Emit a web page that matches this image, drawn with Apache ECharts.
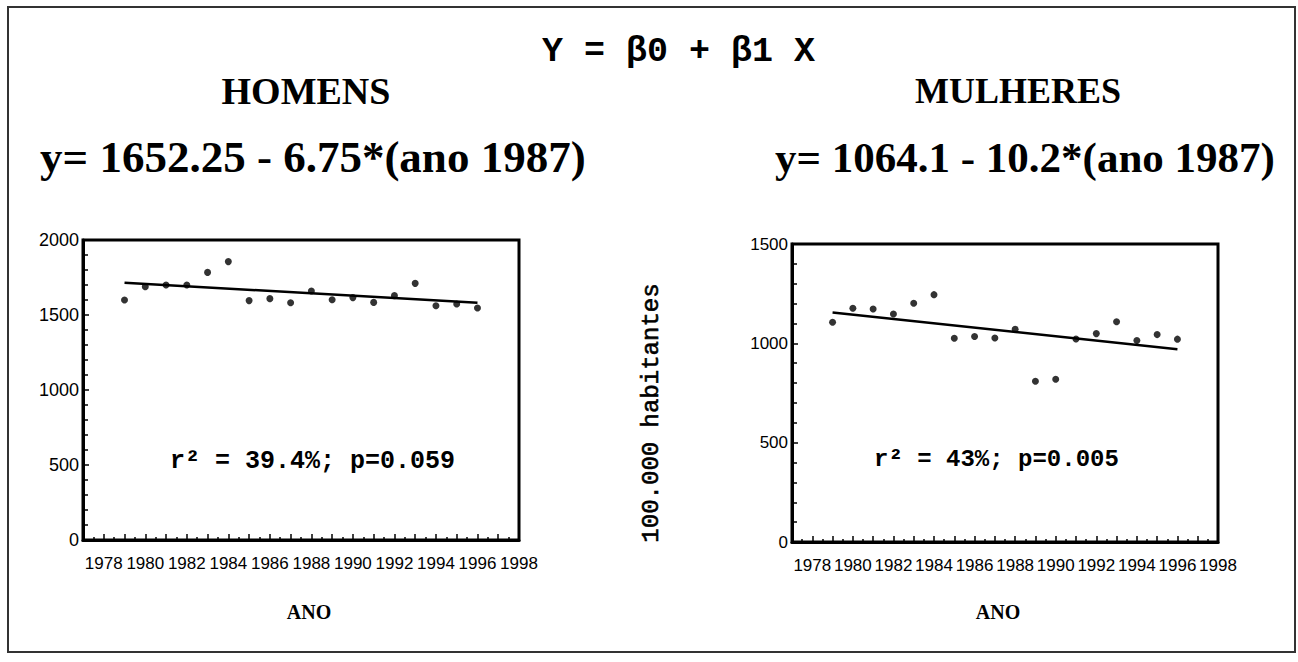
<!DOCTYPE html>
<html>
<head>
<meta charset="utf-8">
<script src="https://cdn.jsdelivr.net/npm/echarts@6/dist/echarts.min.js"></script>
<style>
  html, body { margin: 0; padding: 0; background: #fff; }
  #chart { width: 1298px; height: 662px; }
</style>
</head>
<body>
<div id="chart"></div>
<script>
  // anos de cada ponto
  const anos = [1979, 1980, 1981, 1982, 1983, 1984, 1985, 1986, 1987, 1988, 1989, 1990, 1991, 1992, 1993, 1994, 1995, 1996];
  // taxas por 100.000 habitantes
  const homens = [1600, 1689, 1700, 1700, 1784, 1856, 1596, 1609, 1582, 1660, 1602, 1616, 1584, 1629, 1711, 1562, 1573, 1547];
  const mulheres = [1106, 1177, 1173, 1148, 1202, 1245, 1026, 1034, 1027, 1071, 809, 819, 1022, 1049, 1109, 1014, 1044, 1021];
  // reta ajustada (extremos)
  const retaHomens = [[1979, 1715], [1996, 1582]];
  const retaMulheres = [[1979, 1155], [1996, 970]];

  const pares = (vals) => anos.map((a, i) => [a, vals[i]]);

  const chart = echarts.init(document.getElementById('chart'), null, { renderer: 'svg' });

  const eixoX = (idx) => ({
    type: 'value',
    gridIndex: idx,
    min: 1977,
    max: 1998,
    interval: 1,
    axisLine: { show: true, onZero: false, lineStyle: { color: '#000', width: 3 } },
    axisTick: { show: true, inside: true, length: 6, lineStyle: { color: '#000', width: 1.5 } },
    minorTick: { show: true, splitNumber: 2, length: 3, lineStyle: { color: '#000', width: 1.5 } },
    splitLine: { show: false },
    axisLabel: {
      margin: 15,
      color: '#000',
      fontFamily: 'Liberation Sans',
      fontSize: 17,
      showMinLabel: true,
      showMaxLabel: true,
      formatter: (v) => (v % 2 === 0 ? String(v) : '')
    }
  });

  const eixoY = (idx, max, size) => ({
    type: 'value',
    gridIndex: idx,
    min: 0,
    max: max,
    interval: 500,
    axisLine: { show: true, lineStyle: { color: '#000', width: 3 } },
    axisTick: { show: true, inside: true, length: 6, lineStyle: { color: '#000', width: 1.5 } },
    minorTick: { show: true, splitNumber: 5, length: 5, lineStyle: { color: '#000', width: 1.5 } },
    splitLine: { show: false },
    axisLabel: {
      margin: 4,
      color: '#000',
      fontFamily: 'Liberation Sans',
      fontSize: size,
      formatter: (v) => String(v)
    }
  });

  const pontos = (idx, vals) => ({
    type: 'scatter',
    xAxisIndex: idx,
    yAxisIndex: idx,
    data: pares(vals),
    symbolSize: 7,
    itemStyle: { color: '#000' },
    silent: true
  });

  const reta = (idx, dados) => ({
    type: 'line',
    xAxisIndex: idx,
    yAxisIndex: idx,
    data: dados,
    showSymbol: false,
    lineStyle: { color: '#000', width: 2.5 },
    silent: true
  });

  const txt = (x, y, text, font, align) => ({
    type: 'text',
    x: x,
    y: y,
    style: { text: text, font: font, fill: '#000', align: align || 'center', verticalAlign: 'middle' }
  });

  const option = {
    animation: false,
    grid: [
      { left: 83, top: 240, width: 436, height: 300, show: true, borderColor: '#000', borderWidth: 3 },
      { left: 792, top: 244, width: 426, height: 298, show: true, borderColor: '#000', borderWidth: 3 }
    ],
    xAxis: [eixoX(0), eixoX(1)],
    yAxis: [eixoY(0, 2000, 18), eixoY(1, 1500, 17)],
    series: [
      pontos(0, homens),
      reta(0, retaHomens),
      pontos(1, mulheres),
      reta(1, retaMulheres)
    ],
    graphic: [
      // moldura externa
      {
        type: 'rect',
        shape: { x: 8, y: 7, width: 1287, height: 645 },
        style: { fill: 'none', stroke: '#333', lineWidth: 2 }
      },
      txt(542, 52, 'Y = β0 + β1 X', 'bold 35px "Liberation Mono"', 'left'),
      txt(306, 91, 'HOMENS', 'bold 38px "Liberation Serif"'),
      txt(1018, 91, 'MULHERES', 'bold 36px "Liberation Serif"'),
      txt(40, 157, 'y= 1652.25 - 6.75*(ano 1987)', 'bold 45px "Liberation Serif"', 'left'),
      txt(775, 157, 'y= 1064.1 - 10.2*(ano 1987)', 'bold 43px "Liberation Serif"', 'left'),
      txt(170, 461, 'r² = 39.4%; p=0.059', 'bold 25px "Liberation Mono"', 'left'),
      txt(874, 459, 'r² = 43%; p=0.005', 'bold 24px "Liberation Mono"', 'left'),
      {
        type: 'text',
        x: 651,
        y: 413,
        rotation: Math.PI / 2,
        style: {
          text: '100.000 habitantes',
          font: '24px "Liberation Mono"',
          fill: '#000',
          stroke: '#000',
          lineWidth: 0.6,
          align: 'center',
          verticalAlign: 'middle'
        }
      },
      txt(309, 612, 'ANO', 'bold 20px "Liberation Serif"'),
      txt(998, 612, 'ANO', 'bold 20px "Liberation Serif"')
    ]
  };

  chart.setOption(option);
</script>
</body>
</html>
